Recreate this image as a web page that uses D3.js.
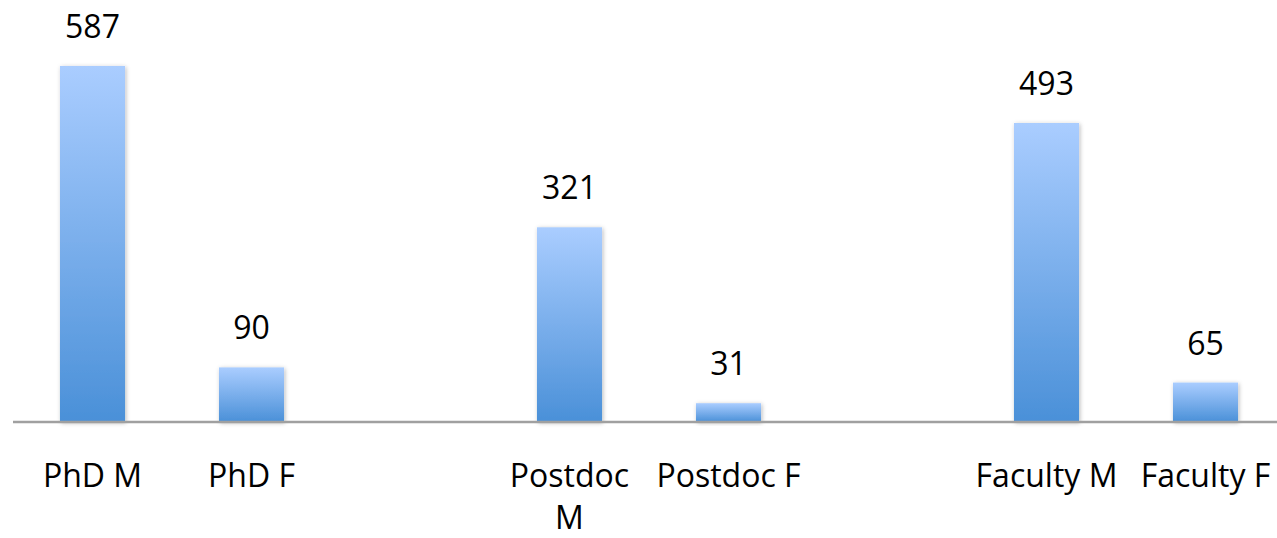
<!DOCTYPE html>
<html>
<head>
<meta charset="utf-8">
<script src="https://cdn.jsdelivr.net/npm/d3@7"></script>
<style>
  html, body { margin: 0; padding: 0; background: #fff; }
  svg { display: block; }
</style>
</head>
<body>
<svg id="chart" width="1277" height="538"></svg>
<script>
const categories = ["PhD M", "PhD F", "", "Postdoc M", "Postdoc F", "", "Faculty M", "Faculty F"];
const values = [587, 90, null, 321, 31, null, 493, 65];

const W = 1277, H = 538;
const svg = d3.select("#chart");
const font = "'Open Sans', 'Liberation Sans', sans-serif";

const defs = svg.append("defs");
const grad = defs.append("linearGradient")
  .attr("id", "barGrad").attr("x1", 0).attr("y1", 0).attr("x2", 0).attr("y2", 1);
grad.append("stop").attr("offset", "0%").attr("stop-color", "#aacdff");
grad.append("stop").attr("offset", "100%").attr("stop-color", "#4a90d8");

const filt = defs.append("filter").attr("id", "shadow")
  .attr("x", "-20%").attr("y", "-20%").attr("width", "140%").attr("height", "140%");
filt.append("feDropShadow").attr("dx", 1).attr("dy", 1).attr("stdDeviation", 2.2)
  .attr("flood-color", "#000").attr("flood-opacity", 0.28);

const idx = d3.range(categories.length);
const x = d3.scaleBand().domain(idx).range([13, 1285]).padding(0);
const y = d3.scaleLinear().domain([0, 600]).range([422, 58.1]);
const barW = x.bandwidth() * 0.409;

const data = idx.map(i => ({ i, cat: categories[i], v: values[i] })).filter(d => d.v != null);

svg.append("g").selectAll("rect").data(data).join("rect")
  .attr("x", d => x(d.i) + (x.bandwidth() - barW) / 2)
  .attr("y", d => y(d.v))
  .attr("width", barW)
  .attr("height", d => y(0) - y(d.v))
  .attr("fill", "url(#barGrad)")
  .attr("filter", "url(#shadow)");

svg.append("g").selectAll("text").data(data).join("text")
  .attr("x", d => x(d.i) + x.bandwidth() / 2)
  .attr("y", d => y(d.v) - 28)
  .attr("text-anchor", "middle")
  .attr("font-family", font)
  .attr("font-size", 32)
  .attr("fill", "#000")
  .text(d => d3.format("d")(d.v));

// axis line
const axis = d3.axisBottom(x).tickSize(0).tickFormat(i => categories[i]);
const gx = svg.append("g").attr("transform", `translate(0,${y(0)})`).call(axis);
gx.select(".domain").attr("d", `M13,0H${W}`).attr("stroke", "#a0a0a0").attr("stroke-width", 2.6);
gx.selectAll(".tick text")
  .attr("font-family", font)
  .attr("font-size", 32)
  .attr("fill", "#000")
  .attr("dy", null)
  .attr("y", 65)
  .each(function(i) {
    const t = d3.select(this);
    const label = categories[i];
    t.text(label);
    if (this.getComputedTextLength() > x.step() - 4) {
      const words = label.split(" ");
      t.text(null);
      words.forEach((w, k) => {
        t.append("tspan").attr("x", 0).attr("y", 65 + k * 42).text(w);
      });
    }
  });
</script>
</body>
</html>
